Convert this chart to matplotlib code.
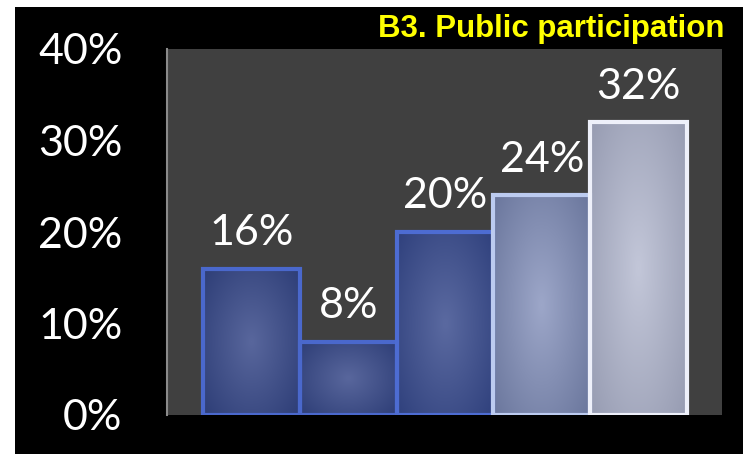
import matplotlib.pyplot as plt
import numpy as np
from matplotlib.colors import LinearSegmentedColormap
from matplotlib.patches import Rectangle

# survey results
categories = ['1', '2', '3', '4', '5']
values = [16, 8, 20, 24, 32]
labels = ['16%', '8%', '20%', '24%', '32%']
yticks = [0, 10, 20, 30, 40]
ytick_labels = ['0%', '10%', '20%', '30%', '40%']
title = 'B3. Public participation'

# (outer shade, centre shade, rim) for each bar
bar_styles = [
    ('#2f3f78', '#58669c', '#4a68cc'),
    ('#2f3f78', '#58669c', '#4a68cc'),
    ('#31427e', '#5a69a0', '#4d6cd2'),
    ('#6c789e', '#9ca6c8', '#bccbf0'),
    ('#989db3', '#c2c6d8', '#eef0fa'),
]

W, H = 747, 454
fig = plt.figure(figsize=(W / 100, H / 100), dpi=100)
fig.patch.set_facecolor('white')

# black backdrop
bg = fig.add_axes([15 / W, 0, 728 / W, 447 / H])
bg.set_facecolor('black')
bg.set_xticks([])
bg.set_yticks([])
for s in bg.spines.values():
    s.set_visible(False)

ax = fig.add_axes([167 / W, 1 - 415 / H, 555 / W, 366 / H])
ax.set_facecolor('#404040')

# radial shading texture used inside every bar
gy, gx = np.mgrid[-1:1:120j, -1:1:60j]
shade = 1 - np.clip(np.sqrt(gx ** 2 + (gy * 0.9) ** 2) / 1.3, 0, 1)

x = np.arange(len(categories))
for xi, v, (c_out, c_in, c_rim) in zip(x, values, bar_styles):
    cmap = LinearSegmentedColormap.from_list('bar', [c_out, c_in])
    ax.imshow(shade, cmap=cmap, extent=(xi - 0.5, xi + 0.5, 0, v),
              aspect='auto', zorder=2, interpolation='bilinear')
    ax.add_patch(Rectangle((xi - 0.5, 0), 1, v, facecolor='none',
                           edgecolor=c_rim, linewidth=3, zorder=3))
    ax.annotate(labels[xi], (xi, v), xytext=(0, 17), textcoords='offset points',
                ha='center', va='baseline', color='white', fontsize=31,
                family='Lato', zorder=4)

ax.set_xlim(-0.87, 4.86)
ax.set_ylim(0, 40)
ax.set_xticks([])
ax.set_yticks(yticks)
ax.set_yticklabels(ytick_labels, color='white', fontsize=31, family='Lato')
ax.tick_params(axis='y', length=0, pad=32)
for side in ['top', 'right', 'bottom']:
    ax.spines[side].set_visible(False)
ax.spines['left'].set_color('#8a8a8a')
ax.spines['left'].set_linewidth(1.5)

fig.text(725 / W, 1 - 37 / H, title, ha='right', va='baseline',
         color='#ffff00', fontsize=22.5, fontweight='bold', family='Liberation Sans')

fig.savefig('out.png', dpi=100, facecolor=fig.get_facecolor())
